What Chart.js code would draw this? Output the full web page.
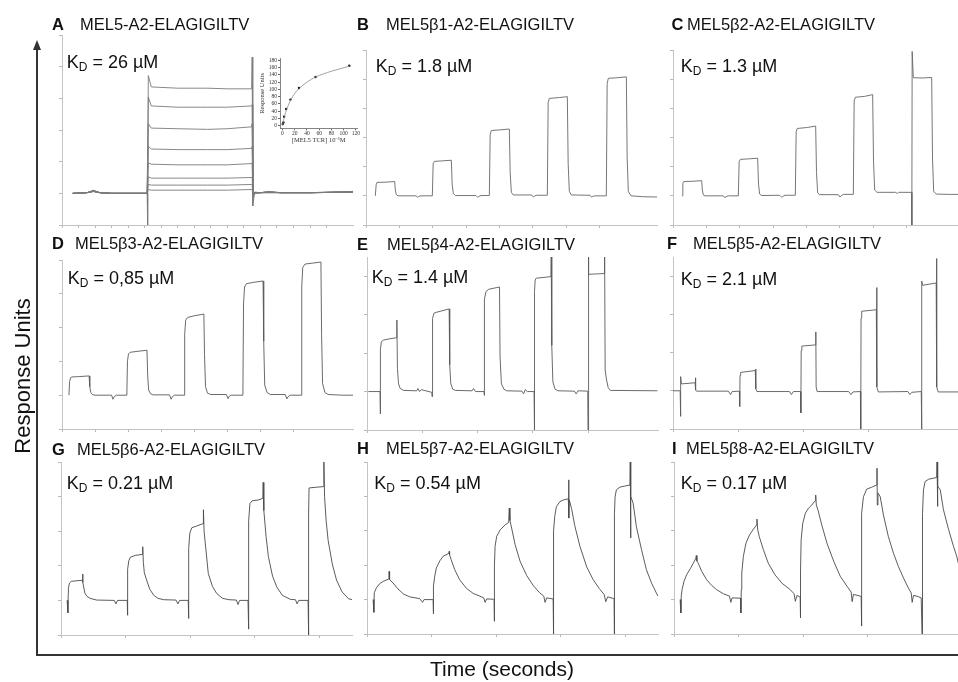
<!DOCTYPE html>
<html>
<head>
<meta charset="utf-8">
<script src="https://cdn.jsdelivr.net/npm/chart.js@4.4.0/dist/chart.umd.min.js"></script>
<style>
html,body{margin:0;padding:0;background:#fff;}
#fig{position:relative;width:958px;height:682px;overflow:hidden;font-family:"Liberation Sans",Arial,Helvetica,sans-serif;color:#111;}
#fig canvas{position:absolute;left:0;top:0;pointer-events:none;}
.ttl{position:absolute;font-size:16.5px;line-height:16.5px;white-space:nowrap;}
.ttl.l{font-weight:bold;}
.kd{position:absolute;font-size:18px;line-height:18px;white-space:nowrap;}
.kd sub{font-size:12px;line-height:0;vertical-align:-3px;}
.ax{position:absolute;background:#333;}
</style>
</head>
<body>
<div id="fig">
  <div class="ax" style="left:36px;top:48px;width:2px;height:608px;"></div>
  <div class="ax" style="left:36px;top:654px;width:922px;height:2px;"></div>
  <div style="position:absolute;left:32.5px;top:40px;width:0;height:0;border-left:4.5px solid transparent;border-right:4.5px solid transparent;border-bottom:10px solid #333;"></div>
  <div style="position:absolute;left:23px;top:376px;transform:translate(-50%,-50%) rotate(-90deg);font-size:22px;white-space:nowrap;">Response Units</div>
  <div style="position:absolute;left:502px;top:658px;transform:translateX(-50%);font-size:21px;line-height:21px;white-space:nowrap;">Time (seconds)</div>
</div>
<script>
// ---------------- DATA ----------------
// Panel titles and KD labels
const panelLetters = ["A","B","C","D","E","F","G","H","I"];
const panelNames = ["MEL5-A2-ELAGIGILTV","MEL5β1-A2-ELAGIGILTV","MEL5β2-A2-ELAGIGILTV","MEL5β3-A2-ELAGIGILTV","MEL5β4-A2-ELAGIGILTV","MEL5β5-A2-ELAGIGILTV","MEL5β6-A2-ELAGIGILTV","MEL5β7-A2-ELAGIGILTV","MEL5β8-A2-ELAGIGILTV"];
const kdValues = ["26 µM","1.8 µM","1.3 µM","0,85 µM","1.4 µM","2.1 µM","0.21 µM","0.54 µM","0.17 µM"];

// Panel A: equilibrium sensorgrams (time s, response units) for 8 concentrations
const aTime = [13,30,38,46,60,103,103.6,104.4,108,140,176,200,229.4,230,230.8,233,240,250,265,300,352];
const aRU1 = [0,1,5,1,0,0,-50,186,168,166,166,165,165,215,-20,2,1,3,1,1,3];
const aRU2 = [0,1,4,1,0,0,0,152,138,136,136,136,138,140,-8,1,1,2,1,1,3];
const aRU3 = [0,1,4,1,0,0,0,110,103,102,101,102,105,110,-6,1,1,2,1,1,2];
const aRU4 = [0,1,3,1,0,0,0,74,70,69,69,69,71,74,-4,1,1,2,1,1,2];
const aRU5 = [0,1,3,1,0,0,0,48,46,45,45,45,47,48,-3,1,1,2,1,1,2];
const aRU6 = [0,1,3,1,0,0,0,26,24,24,24,24,25,26,-2,1,1,2,1,1,2];
const aRU7 = [0,1,3,1,0,0,0,14,13,13,13,13,14,14,-2,0,1,1,1,1,2];
const aRU8 = [0,1,3,1,0,0,0,6,5,5,5,5,6,6,-2,0,1,1,1,1,2];

// Panel A inset: steady-state binding
const insetConc = [0.5,1.6,2.7,6,13,27,54,109];
const insetRU = [5,9,25,46,72,104,134,165];
const insetFitConc = [0,3.4,6.8,13.6,20,27,40,54,80,112];
const insetFitRU = [0,26,45,71,89,102,120,134,150,165];
const insetXTicks = [0,20,40,60,80,100,120];
const insetYTicks = [0,20,40,60,80,100,120,140,160,180];

// Panel B
const bTime = [28,30.5,33,60,86,88,91,96, 150,155,158,165,199, 201.5,205,230,256,258.5,262,268, 330,335,338,345,370, 372.5,376,400,430,432.5,436,442, 497,502,505,512,544, 546.5,550,580,604,606.5,610,616, 672,677,680,687,721, 723.5,727,755,781,783.5,787,795,830,873];
const bRU   = [0,38,46,47,49,20,4,0, 0,-5,-2,0,0, 110,118,120,122,40,8,1, 1,-5,-2,1,1, 210,224,226,229,80,12,3, 3,-4,-1,2,2, 320,334,337,340,110,15,3, 2,-5,-2,0,0, 385,403,405,408,130,15,0,-3,-4];

// Panel C
const cTime = [27,29.5,32,60,86,88,91,96, 150,156,159,166,196, 198.5,202,230,254,256.5,260,266, 320,326,329,336,367, 369.5,373,400,428,430.5,434,440, 496,501,504,511,541, 543.5,547,575,599,601.5,605,612, 668,673,677,690,716, 716.5,717.5,721,750,776,778.5,782,790,830,855];
const cRU   = [0,42,49,50,52,20,3,0, 0,-6,-3,0,0, 118,125,127,129,40,6,1, 2,-5,-2,2,2, 220,231,234,239,80,10,4, 4,-4,0,5,5, 325,338,341,347,120,20,12, 12,8,12,12,12, -100,495,405,404,406,130,15,6,5,5];

// Panel D
const dTime = [21,23,26,30,50,82,84,87,92,100, 150,154,158,165,196, 198,201,206,230,257,259,262,268,276, 325,330,334,340,369, 371,374,380,400,429,431,434,440,450, 497,502,506,512,547, 549,552,558,580,608,610,613,620,630, 675,680,684,690,723, 725,728,735,760,783,785,788,795,805,850,880];
const dRU   = [0,40,52,54,55,57,25,8,2,0, 0,-12,-4,0,0, 100,122,127,130,133,60,15,4,1, 1,-12,-4,0,0, 180,222,230,235,240,120,25,6,2, 2,-10,-3,0,0, 270,320,330,334,338,160,30,8,2, 2,-11,-4,0,0, 320,378,388,391,394,180,35,8,2,0,0];

// Panel E
const eTime = [5,47, 48,49,52,60,80,107,108,110,114,120,132, 180,184,190,196,234, 235,237,242,250,297,299,303,310,320, 380,385,392,423, 424,425,430,440,479,481,486,495,505, 560,566,572,580,604, 605,606,608,612,640,665,666,668,672,680,690, 750,756,763,798, 799,800,802,830,858,859,861,866,872,880,1050];
const eRU   = [0,0, -58,110,130,134,137,140,186,60,20,8,3, 2,8,0,5,-2, -13,190,204,206,215,70,20,6,3, 2,8,0,0, -10,240,260,266,272,90,20,6,2, 1,-6,5,0,0, -100,260,290,295,297,299,350,120,25,6,2, 1,-6,2,1, -100,350,305,306,307,350,56,30,10,3,2];

// Panel F
const fTime = [0,22, 23,24,26,68,69,70,72, 170,177,182,204, 205,206,208,253,254,255,258, 358,364,370,392, 393,394,396,438,439,440,443, 540,547,553,576, 577,578,580,625,626,627,631, 722,728,734,763, 764,765,767,809,810,811,815,876];
const fRU   = [0,0, -67,37,18,21,34,2,-1, -1,-10,-2,-1, -41,40,48,53,57,5,-2, -2,-10,-2,-2, -58,105,117,120,154,10,-2, -2,-10,-3,-2, -100,190,208,212,270,10,-3, -2,-10,-4,-2, -100,287,276,282,346,10,-3,-3];

// Panel G
const gTime = [19,21,21.5,22.5,23,26,32,50,66,67,68,71,74,80,90,110, 165,170,175,204, 205,205.5,206.5,207,210,215,230,252,253,255,258,265,275,287,300,318, 356,362,367,393, 394,394.5,395.5,396,399,405,420,440,441,443,456,469,482,500,520, 543,548,553,579, 580,580.5,581.5,582,585,592,610,625,626,628,635,642,655,668,685,710, 726,731,736,765, 766,766.5,767.5,768,790,813,814,816,821,827,840,853,870,890,901];
const gRU   = [0,0,-36,20,35,50,55,57,58,76,52,35,21,12,6,1, 0,-10,0,0, 0,-43,60,90,115,125,130,133,155,110,80,59,32,15,6,2, 1,-10,0,0, 0,-52,100,150,195,210,215,222,262,200,78,40,20,6,2, 1,-12,0,0, 0,-83,150,230,280,288,290,295,341,260,185,127,70,39,15,3, 2,-10,0,0, 0,-100,250,325,327,329,401,300,230,174,105,59,25,5,2];

// Panel H
const hTime = [19,21,21.5,22.5,29,39,50,68,68.5,70,81,96,112,132,163, 172,177,204, 205,205.5,206.5,210,215,226,236,251,254,254.5,256,261,272,287,308,329,350,362, 366,371,393, 394,394.5,395.5,397,402,413,428,439,441,443,449,459,475,495,516,535,548, 552,557,576, 577,577.5,579,582,587,598,610,624,625,626,627,634,644,660,681,701,720,735, 740,746,765, 766,766.5,767.5,769,773,784,799,815,816,817,818,825,835,851,866,882,897,902];
const hRU   = [0,0,-37,20,34,46,53,60,82,58,48,31,17,8,3, -8,0,0, 0,-41,40,68,92,113,126,133,135,140,130,116,87,58,33,18,10,5, -8,2,1, 0,-63,100,155,184,203,217,224,266,230,205,160,110,70,40,20,10, -8,5,2, 2,-100,200,242,270,285,290,293,348,237,290,265,215,155,95,58,32,15, -6,8,3, 2,-100,250,299,319,327,330,333,400,179,300,280,212,145,87,48,19,10];

// Panel I
const iTime = [19,21,21.5,22.5,25,31,39,50,60,68,69,71,75,86,101,117,132,153,172, 176,180,206, 207,207.5,208.5,210,215,223,234,246,256,257,259,264,277,292,313,334,360,372, 376,381,390, 391,391.5,392.5,394,399,407,417,427,438,439,441,446,459,474,495,515,536,549, 552,556,578, 580,580.5,581.5,582,587,597,613,628,629,630,632,639,649,664,680,695,711,726,735, 738,742,753,766, 768,768.5,770,773,778,789,804,814,815,816,818,825,835,851,866,876,881];
const iRU   = [0,0,-39,10,29,53,72,89,106,121,128,112,106,82,58,41,29,17,10, -8,5,4, 4,-39,30,77,126,164,188,205,217,234,205,184,145,106,72,48,29,17, -5,12,8, 8,-53,80,174,222,251,266,275,288,304,275,261,213,164,111,68,39,22, -6,15,10, 10,-77,150,251,299,321,327,333,382,275,310,299,246,184,135,97,63,34,19, -8,12,10,5, 5,-100,250,319,343,350,353,355,401,271,330,319,261,203,155,126,106];

// Axis ranges / tick steps per panel
const panelXMax  = [352, 873, 855, 880, 1052, 876, 901, 902, 880];
const panelXStep = [20, 100, 100, 100, 200, 200, 200, 200, 200];
const panelYMin  = [-50, -100, -100, -100, -100, -100, -100, -100, -100];
const panelYMax  = [250, 500, 500, 400, 350, 350, 400, 400, 400];
const panelYStep = [50, 100, 100, 100, 100, 100, 100, 100, 100];

// ---------------- LAYOUT ----------------
// plot areas [left, top, right, bottom] in page pixels
const areas = [
  [62,35,353,225],[366,50,657,225],[673,50,958,225],
  [62,260,353,429],[367,257,658,430],[673,257,958,429],
  [61,462,352,635],[367,462,658,634],[674,462,958,634]
];
const titlePos = [ // [letterX, textX, baseline]
  [52,80,29.5],[357,386,30],[671.5,687,30],
  [52,75,248.5],[357,387,249.5],[667,693,248.5],
  [52,77,454.5],[357,386,453.5],[672,686,454]
];
const kdPos = [ // [x, baseline]
  [66.7,68.3],[375.7,72],[680.7,72],
  [67.7,284],[371.7,283],[680.7,285],
  [66.7,489],[374.3,489],[680.7,489]
];
const lineColors = ['#7a7a7a','#666','#666','#5a5a5a','#5a5a5a','#5a5a5a','#4a4a4a','#4a4a4a','#4a4a4a'];

const fig = document.getElementById('fig');
const W = 958, H = 682, TL = 3;

function xy(ts, ys){
  if (ts.length !== ys.length) console.error('length mismatch', ts.length, ys.length);
  return ts.map((t,i)=>({x:t, y:ys[i]}));
}
function newCanvas(){
  const c = document.createElement('canvas');
  c.width = W; c.height = H;
  c.style.width = W+'px'; c.style.height = H+'px';
  fig.insertBefore(c, fig.firstChild);
  return c;
}
function keepSteps(step){
  return function(scale){
    scale.ticks = scale.ticks.filter(t => Math.abs(t.value/step - Math.round(t.value/step)) < 1e-6);
  };
}

const panelSeries = [
  [xy(aTime,aRU1),xy(aTime,aRU2),xy(aTime,aRU3),xy(aTime,aRU4),xy(aTime,aRU5),xy(aTime,aRU6),xy(aTime,aRU7),xy(aTime,aRU8)],
  [xy(bTime,bRU)],[xy(cTime,cRU)],[xy(dTime,dRU)],[xy(eTime,eRU)],
  [xy(fTime,fRU)],[xy(gTime,gRU)],[xy(hTime,hRU)],[xy(iTime,iRU)]
];

panelSeries.forEach((series, p) => {
  const [L,T,R,B] = areas[p];
  const gridOpt = {drawOnChartArea:false, drawTicks:true, tickLength:TL, color:'#b8b8b8', lineWidth:1};
  new Chart(newCanvas(), {
    type:'line',
    data:{datasets: series.map(d => ({data:d, borderColor: lineColors[p], borderWidth: 0.9, pointRadius:0, tension:0, fill:false}))},
    options:{
      responsive:false, animation:false, devicePixelRatio:1, events:[],
      layout:{autoPadding:false, padding:{left:L-TL, top:T, right:W-R, bottom:H-B-TL}},
      plugins:{legend:{display:false}, tooltip:{enabled:false}, title:{display:false}},
      scales:{
        x:{type:'linear', min:0, max:panelXMax[p], ticks:{display:false, stepSize:panelXStep[p]}, afterBuildTicks:keepSteps(panelXStep[p]), grid:gridOpt, border:{color:'#c4c4c4', width:1}},
        y:{type:'linear', min:panelYMin[p], max:panelYMax[p], ticks:{display:false, stepSize:panelYStep[p]}, afterBuildTicks:keepSteps(panelYStep[p]), grid:gridOpt, border:{color:'#c4c4c4', width:1}}
      }
    }
  });
});

// Inset chart in panel A
(function(){
  const L = 280, R = 357.2, T = 58.5, B = 128.3, YW = 22, XH = 16;
  new Chart(newCanvas(), {
    type:'scatter',
    data:{datasets:[
      {data: xy(insetFitConc, insetFitRU), showLine:true, borderColor:'#8a8a8a', borderWidth:0.8, pointRadius:0, cubicInterpolationMode:'monotone'},
      {data: xy(insetConc, insetRU), showLine:false, pointRadius:1.2, pointBackgroundColor:'#111', pointBorderWidth:0}
    ]},
    options:{
      responsive:false, animation:false, devicePixelRatio:1, events:[],
      layout:{autoPadding:false, padding:{left:L-YW, top:T, right:W-R, bottom:H-B-XH}},
      plugins:{legend:{display:false}, tooltip:{enabled:false}},
      scales:{
        x:{type:'linear', min:-4, max:122,
           afterBuildTicks: s => { s.ticks = insetXTicks.map(v=>({value:v})); },
           afterFit: s => { s.height = XH; },
           ticks:{font:{family:'"Liberation Serif",serif', size:5.5}, color:'#333', padding:0, maxRotation:0, autoSkip:false},
           grid:{drawOnChartArea:false, tickLength:2, color:'#666'},
           border:{color:'#666', width:0.8},
           title:{display:true, text:'[MEL5 TCR] 10⁻⁶M', font:{family:'"Liberation Serif",serif', size:6.5}, color:'#333', padding:0}},
        y:{type:'linear', min:-7, max:185,
           afterBuildTicks: s => { s.ticks = insetYTicks.map(v=>({value:v})); },
           afterFit: s => { s.width = YW; },
           ticks:{font:{family:'"Liberation Serif",serif', size:5.5}, color:'#333', padding:1, autoSkip:false},
           grid:{drawOnChartArea:false, tickLength:2, color:'#666'},
           border:{color:'#666', width:0.8},
           title:{display:true, text:'Response Units', font:{family:'"Liberation Serif",serif', size:6.5}, color:'#333', padding:0}}
      }
    }
  });
})();

// Titles & KD labels (real text)
panelLetters.forEach((letter, p) => {
  const [lx, tx, base] = titlePos[p];
  const top = base - 16.5*0.8465;
  const a = document.createElement('div'); a.className='ttl l'; a.textContent = letter;
  a.style.left = lx+'px'; a.style.top = top+'px'; fig.appendChild(a);
  const b = document.createElement('div'); b.className='ttl'; b.textContent = panelNames[p];
  b.style.left = tx+'px'; b.style.top = top+'px'; fig.appendChild(b);
  const [kx, kb] = kdPos[p];
  const k = document.createElement('div'); k.className='kd';
  k.innerHTML = 'K<sub>D</sub> = ' + kdValues[p];
  k.style.left = kx+'px'; k.style.top = (kb - 18*0.8465)+'px'; fig.appendChild(k);
});
</script>
</body>
</html>
